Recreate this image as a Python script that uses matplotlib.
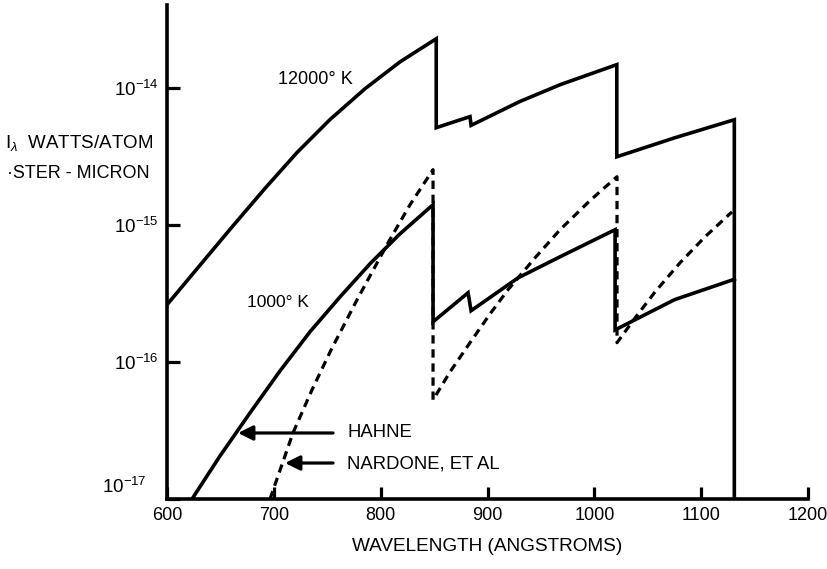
import matplotlib.pyplot as plt
from matplotlib.ticker import NullLocator

plt.rcParams['font.family'] = 'Liberation Sans'
plt.rcParams['mathtext.fontset'] = 'custom'
plt.rcParams['mathtext.rm'] = 'Liberation Sans'
plt.rcParams['mathtext.it'] = 'Liberation Sans:italic'

# 12000 K, Hahne (solid)
hot_x = [600, 630.9, 660.8, 691.7, 721.7, 752.6, 785.4, 818.1, 852,
         852, 883.6, 884.6, 930, 968, 1021,
         1021, 1075.5, 1131, 1131]
hot_y = [2.61e-16, 5.07e-16, 9.62e-16, 1.84e-15, 3.36e-15, 5.85e-15, 9.82e-15, 1.54e-14, 2.27e-14,
         5.10e-15, 6.14e-15, 5.3e-15, 7.9e-15, 1.05e-14, 1.47e-14,
         3.13e-15, 4.31e-15, 5.83e-15, 1e-17]

# 1000 K, Hahne (solid)
cold_x = [623.4, 649.6, 677.7, 705.8, 733.9, 762.0, 790.0, 818.1, 849,
          849, 881.8, 884.6, 928.6, 967.9, 1019.4,
          1019.4, 1075, 1131]
cold_y = [1e-17, 2.06e-17, 4.25e-17, 8.6e-17, 1.66e-16, 2.98e-16, 5.19e-16, 8.59e-16, 1.40e-15,
          1.96e-16, 3.19e-16, 2.36e-16, 4.10e-16, 5.84e-16, 9.2e-16,
          1.71e-16, 2.84e-16, 4.0e-16]

# 1000 K, Nardone et al (dashed)
nard_x = [696.4, 717.9, 735.7, 753.5, 777.9, 806.9, 827.5, 849,
          849, 864.9, 883.6, 902.4, 919.2, 944.5, 967.9, 995.9, 1021.2,
          1021.2, 1038.1, 1056.8, 1080.2, 1103.6, 1128.8]
nard_y = [1e-17, 3.03e-17, 6.25e-17, 1.22e-16, 2.84e-16, 7.39e-16, 1.40e-15, 2.52e-15,
          5.28e-17, 8.45e-17, 1.38e-16, 2.24e-16, 3.36e-16, 5.74e-16, 9.2e-16, 1.50e-15, 2.24e-15,
          1.38e-16, 2.09e-16, 3.24e-16, 5.28e-16, 8.17e-16, 1.24e-15]

x_ticks = [600, 700, 800, 900, 1000, 1100, 1200]
y_ticks = [1e-17, 1e-16, 1e-15, 1e-14]
y_tick_labels = ['', r'10$^{-16}$', r'10$^{-15}$', r'10$^{-14}$']

fig = plt.figure(figsize=(8.28, 5.69), dpi=100)
ax = fig.add_axes([0.2017, 0.123, 0.7742, 0.8682])

ax.plot(hot_x, hot_y, color='black', lw=2.6, solid_joinstyle='miter')
ax.plot(cold_x, cold_y, color='black', lw=2.6, solid_joinstyle='miter')
ax.plot(nard_x, nard_y, color='black', lw=2.3, dashes=(2.6, 1.8))

ax.set_yscale('log')
ax.set_xlim(600, 1200)
ax.set_ylim(1e-17, 4.0e-14)

for s in ['top', 'right']:
    ax.spines[s].set_visible(False)
for s in ['left', 'bottom']:
    ax.spines[s].set_linewidth(2.6)

ax.set_xticks(x_ticks)
ax.set_yticks(y_ticks)
ax.set_yticklabels(y_tick_labels)
ax.yaxis.set_minor_locator(NullLocator())
ax.tick_params(direction='in', length=9, width=2.3, pad=6)
ax.tick_params(axis='x', labelsize=13)
ax.tick_params(axis='y', labelsize=13.5)

# bottom y label sits a little above and left of the corner
ax.text(-0.031, 0.024, r'10$^{-17}$', transform=ax.transAxes, fontsize=13.5,
        ha='right', va='center')

ax.set_xlabel('WAVELENGTH (ANGSTROMS)', fontsize=13.7, labelpad=10)

fig.text(5 / 828, 1 - 143 / 569, r'I$_\lambda$  WATTS/ATOM', fontsize=13.5,
         va='center', ha='left')
fig.text(7 / 828, 1 - 173 / 569, '·STER - MICRON', fontsize=13,
         va='center', ha='left')

ax.text(703.9, 1.14e-14, '12000° K', fontsize=13, va='center', ha='left')
ax.text(675, 2.7e-16, '1000° K', fontsize=12.5, va='center', ha='left')

# legend arrows
ax.annotate('', xy=(666.5, 3.03e-17), xytext=(755.4, 3.03e-17),
            arrowprops=dict(arrowstyle='-|>', lw=2.3, color='black',
                            mutation_scale=22, shrinkA=0, shrinkB=0))
ax.annotate('', xy=(710.5, 1.83e-17), xytext=(755.4, 1.83e-17),
            arrowprops=dict(arrowstyle='-|>', lw=2.3, color='black',
                            mutation_scale=22, shrinkA=0, shrinkB=0))
ax.text(769.4, 3.05e-17, 'HAHNE', fontsize=13.3, va='center', ha='left')
ax.text(768.5, 1.8e-17, 'NARDONE, ET AL', fontsize=13.3, va='center', ha='left')

fig.savefig('out.png', dpi=100)
